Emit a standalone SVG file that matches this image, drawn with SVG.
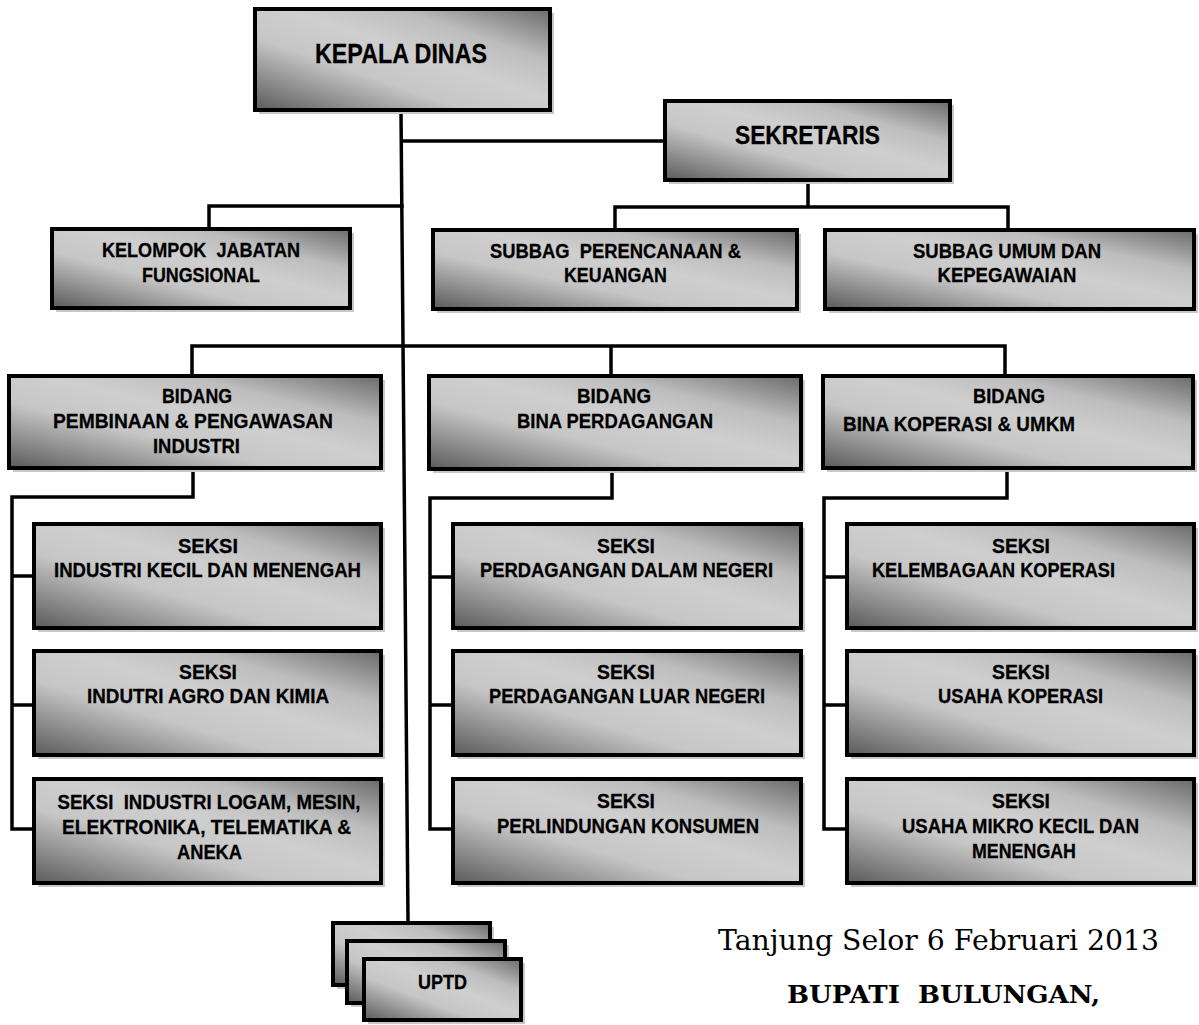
<svg xmlns="http://www.w3.org/2000/svg" width="1199" height="1025" viewBox="0 0 1199 1025">
<defs>
<linearGradient id="g" x1="0" y1="1" x2="1" y2="0">
<stop offset="0" stop-color="#5a5a5a"/>
<stop offset="0.36" stop-color="#c6c6c6"/>
<stop offset="0.55" stop-color="#cfcfcf"/>
<stop offset="0.74" stop-color="#bdbdbd"/>
<stop offset="1" stop-color="#6a6a6a"/>
</linearGradient>
<style>
.box{fill:url(#g);stroke:#000;stroke-width:4}
.sh{fill:#c8c8c8}
.t{font-family:"Liberation Sans",Arial,sans-serif;font-weight:bold;font-size:20.5px;fill:#000;stroke:#000;stroke-width:0.3;text-anchor:middle;white-space:pre}
.big{font-size:28px}
.mid{font-size:25px}
.c{stroke:#000;stroke-width:3.5;fill:none;stroke-linecap:square}
.f{font-family:"DejaVu Serif","Liberation Serif",serif;fill:#000;white-space:pre}
</style>
</defs>
<rect width="1199" height="1025" fill="#fff"/>

<g id="connectors">
<line class="c" x1="401" y1="112" x2="408" y2="921"/>
<line class="c" x1="402" y1="141" x2="664" y2="141"/>
<path class="c" d="M808 182V207M615 228V207H1008V228"/>
<path class="c" d="M209 227V206H402"/>
<path class="c" d="M192 374V346H1005V374M611 346V374"/>
<path class="c" d="M193 470V497H12V829H33M12 576H33M12 705H33"/>
<path class="c" d="M612 470V498H430V829H451M430 577H451M430 705H451"/>
<path class="c" d="M1007 470V498H824V829H846M824 577H846M824 705H846"/>
</g>

<g id="kepala-dinas">
<rect class="sh" x="259" y="13" width="295" height="101"/>
<rect class="box" x="255" y="9" width="295" height="101"/>
<text class="t big" x="401" y="63" textLength="172" lengthAdjust="spacingAndGlyphs">KEPALA DINAS</text>
</g>

<g id="sekretaris">
<rect class="sh" x="669" y="105" width="285" height="79"/>
<rect class="box" x="665" y="101" width="285" height="79"/>
<text class="t mid" x="807.5" y="144" textLength="145" lengthAdjust="spacingAndGlyphs">SEKRETARIS</text>
</g>

<g id="kelompok-jabatan-fungsional">
<rect class="sh" x="56" y="233" width="298" height="79"/>
<rect class="box" x="52" y="229" width="298" height="79"/>
<text class="t" x="201" y="257" textLength="198" lengthAdjust="spacingAndGlyphs">KELOMPOK  JABATAN</text>
<text class="t" x="201" y="282" textLength="118" lengthAdjust="spacingAndGlyphs">FUNGSIONAL</text>
</g>

<g id="subbag-perencanaan">
<rect class="sh" x="437" y="234" width="364" height="79"/>
<rect class="box" x="433" y="230" width="364" height="79"/>
<text class="t" x="615.5" y="258" textLength="251" lengthAdjust="spacingAndGlyphs">SUBBAG  PERENCANAAN &amp;</text>
<text class="t" x="615.5" y="282" textLength="103" lengthAdjust="spacingAndGlyphs">KEUANGAN</text>
</g>

<g id="subbag-umum">
<rect class="sh" x="829" y="234" width="369" height="79"/>
<rect class="box" x="825" y="230" width="369" height="79"/>
<text class="t" x="1007" y="258" textLength="188" lengthAdjust="spacingAndGlyphs">SUBBAG UMUM DAN</text>
<text class="t" x="1007" y="282" textLength="139" lengthAdjust="spacingAndGlyphs">KEPEGAWAIAN</text>
</g>

<g id="bidang-industri">
<rect class="sh" x="13" y="380" width="372" height="92"/>
<rect class="box" x="9" y="376" width="372" height="92"/>
<text class="t" x="197" y="403" textLength="70" lengthAdjust="spacingAndGlyphs">BIDANG</text>
<text class="t" x="193" y="428" textLength="280" lengthAdjust="spacingAndGlyphs">PEMBINAAN &amp; PENGAWASAN</text>
<text class="t" x="196.5" y="453" textLength="87" lengthAdjust="spacingAndGlyphs">INDUSTRI</text>
</g>

<g id="bidang-perdagangan">
<rect class="sh" x="433" y="380" width="372" height="93"/>
<rect class="box" x="429" y="376" width="372" height="93"/>
<text class="t" x="614" y="403" textLength="74" lengthAdjust="spacingAndGlyphs">BIDANG</text>
<text class="t" x="615" y="428" textLength="196" lengthAdjust="spacingAndGlyphs">BINA PERDAGANGAN</text>
</g>

<g id="bidang-koperasi">
<rect class="sh" x="827" y="380" width="370" height="92"/>
<rect class="box" x="823" y="376" width="370" height="92"/>
<text class="t" x="1009" y="403" textLength="72" lengthAdjust="spacingAndGlyphs">BIDANG</text>
<text class="t" x="959" y="431" textLength="232" lengthAdjust="spacingAndGlyphs">BINA KOPERASI &amp; UMKM</text>
</g>

<g id="seksi-ikm">
<rect class="sh" x="38" y="528" width="347" height="104"/>
<rect class="box" x="34" y="524" width="347" height="104"/>
<text class="t" x="208" y="553" textLength="60" lengthAdjust="spacingAndGlyphs">SEKSI</text>
<text class="t" x="207.5" y="577" textLength="307" lengthAdjust="spacingAndGlyphs">INDUSTRI KECIL DAN MENENGAH</text>
</g>

<g id="seksi-agro">
<rect class="sh" x="38" y="655" width="347" height="104"/>
<rect class="box" x="34" y="651" width="347" height="104"/>
<text class="t" x="208" y="679" textLength="58" lengthAdjust="spacingAndGlyphs">SEKSI</text>
<text class="t" x="208" y="703" textLength="242" lengthAdjust="spacingAndGlyphs">INDUTRI AGRO DAN KIMIA</text>
</g>

<g id="seksi-logam">
<rect class="sh" x="38" y="783" width="347" height="104"/>
<rect class="box" x="34" y="779" width="347" height="104"/>
<text class="t" x="209" y="809" textLength="303" lengthAdjust="spacingAndGlyphs">SEKSI  INDUSTRI LOGAM, MESIN,</text>
<text class="t" x="206.5" y="834" textLength="289" lengthAdjust="spacingAndGlyphs">ELEKTRONIKA, TELEMATIKA &amp;</text>
<text class="t" x="209.5" y="859" textLength="65" lengthAdjust="spacingAndGlyphs">ANEKA</text>
</g>

<g id="seksi-dalam-negeri">
<rect class="sh" x="457" y="528" width="348" height="104"/>
<rect class="box" x="453" y="524" width="348" height="104"/>
<text class="t" x="626" y="553" textLength="58" lengthAdjust="spacingAndGlyphs">SEKSI</text>
<text class="t" x="626.5" y="577" textLength="293" lengthAdjust="spacingAndGlyphs">PERDAGANGAN DALAM NEGERI</text>
</g>

<g id="seksi-luar-negeri">
<rect class="sh" x="457" y="655" width="348" height="104"/>
<rect class="box" x="453" y="651" width="348" height="104"/>
<text class="t" x="626" y="679" textLength="58" lengthAdjust="spacingAndGlyphs">SEKSI</text>
<text class="t" x="627" y="703" textLength="276" lengthAdjust="spacingAndGlyphs">PERDAGANGAN LUAR NEGERI</text>
</g>

<g id="seksi-konsumen">
<rect class="sh" x="457" y="783" width="348" height="104"/>
<rect class="box" x="453" y="779" width="348" height="104"/>
<text class="t" x="626" y="808" textLength="58" lengthAdjust="spacingAndGlyphs">SEKSI</text>
<text class="t" x="628" y="833" textLength="262" lengthAdjust="spacingAndGlyphs">PERLINDUNGAN KONSUMEN</text>
</g>

<g id="seksi-kelembagaan">
<rect class="sh" x="851" y="528" width="347" height="104"/>
<rect class="box" x="847" y="524" width="347" height="104"/>
<text class="t" x="1021" y="553" textLength="58" lengthAdjust="spacingAndGlyphs">SEKSI</text>
<text class="t" x="993.5" y="577" textLength="243" lengthAdjust="spacingAndGlyphs">KELEMBAGAAN KOPERASI</text>
</g>

<g id="seksi-usaha-koperasi">
<rect class="sh" x="851" y="655" width="347" height="104"/>
<rect class="box" x="847" y="651" width="347" height="104"/>
<text class="t" x="1021" y="679" textLength="58" lengthAdjust="spacingAndGlyphs">SEKSI</text>
<text class="t" x="1020.5" y="703" textLength="165" lengthAdjust="spacingAndGlyphs">USAHA KOPERASI</text>
</g>

<g id="seksi-umkm">
<rect class="sh" x="851" y="783" width="347" height="104"/>
<rect class="box" x="847" y="779" width="347" height="104"/>
<text class="t" x="1021" y="808" textLength="58" lengthAdjust="spacingAndGlyphs">SEKSI</text>
<text class="t" x="1020.5" y="833" textLength="237" lengthAdjust="spacingAndGlyphs">USAHA MIKRO KECIL DAN</text>
<text class="t" x="1024" y="858" textLength="104" lengthAdjust="spacingAndGlyphs">MENENGAH</text>
</g>

<g id="uptd">
<rect class="sh" x="337" y="927" width="157" height="62"/>
<rect class="box" x="333" y="923" width="157" height="62"/>
<rect class="sh" x="351" y="945" width="158" height="62"/>
<rect class="box" x="347" y="941" width="158" height="62"/>
<rect class="sh" x="368" y="963" width="157" height="61"/>
<rect class="box" x="364" y="959" width="157" height="61"/>
<text class="t" x="442.5" y="989" textLength="49" lengthAdjust="spacingAndGlyphs">UPTD</text>
</g>

<g id="signature">
<text class="f" x="718" y="950" font-size="28" textLength="441" lengthAdjust="spacingAndGlyphs">Tanjung Selor 6 Februari 2013</text>
<text class="f" x="787" y="1003" font-size="25" font-weight="bold" textLength="313" lengthAdjust="spacingAndGlyphs">BUPATI  BULUNGAN,</text>
</g>
</svg>
